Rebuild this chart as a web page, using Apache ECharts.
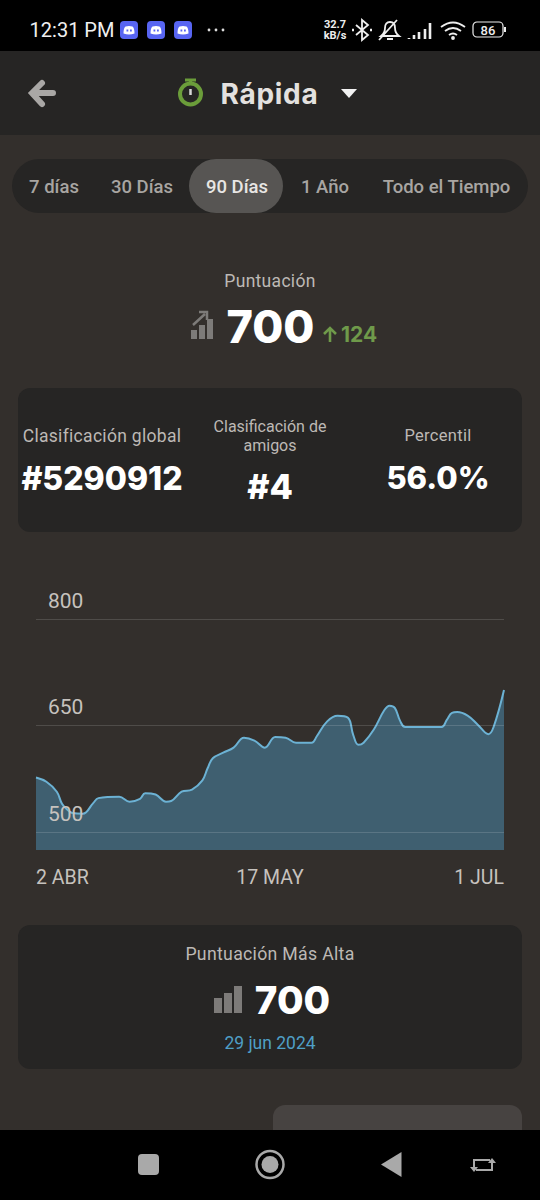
<!DOCTYPE html>
<html>
<head>
<meta charset="utf-8">
<style>
    html, body { margin: 0; padding: 0; background: #332f2c; }
    #app { position: relative; width: 540px; height: 1200px; overflow: hidden; background: #332f2c; font-family: Roboto, sans-serif; }
    .box { position: absolute; }
    .t { position: absolute; transform: translate(-50%, -50%); white-space: nowrap; line-height: 1; }
    .b { font-family: Inter, sans-serif; font-weight: 800; color: #fff; }
    .g { color: #bdb9b5; letter-spacing: 0.3px; }
    svg { position: absolute; overflow: visible; }
    #chart { position: absolute; left: 0; top: 580px; width: 540px; height: 310px; }
</style>
</head>
<body>
<div id="app">
    <!-- status bar -->
    <div class="box" style="left:0;top:0;width:540px;height:51px;background:#000"></div>
    <div class="t" style="left:72px;top:30px;font-size:20px;color:#f0f0f0">12:31 PM</div>
    <svg style="left:120px;top:21px" width="80" height="18">
        <rect x="0" y="0" width="18" height="18" rx="4" fill="#5865f2"/>
        <rect x="27" y="0" width="18" height="18" rx="4" fill="#5865f2"/>
        <rect x="54" y="0" width="18" height="18" rx="4" fill="#5865f2"/>
        <path d="M3.5 12.5 Q3.5 7 5.5 5.5 Q9 4.5 12.5 5.5 Q14.5 7 14.5 12.5 Q9 14.5 3.5 12.5Z M30.5 12.5 Q30.5 7 32.5 5.5 Q36 4.5 39.5 5.5 Q41.5 7 41.5 12.5 Q36 14.5 30.5 12.5Z M57.5 12.5 Q57.5 7 59.5 5.5 Q63 4.5 66.5 5.5 Q68.5 7 68.5 12.5 Q63 14.5 57.5 12.5Z" fill="#fff"/>
        <path d="M6.5 8.5h1.8v2h-1.8Z M10 8.5h1.8v2h-1.8Z M33.5 8.5h1.8v2h-1.8Z M37 8.5h1.8v2h-1.8Z M60.5 8.5h1.8v2h-1.8Z M64 8.5h1.8v2h-1.8Z" fill="#5865f2"/>
    </svg>
    <svg style="left:206px;top:27px" width="24" height="6">
        <circle cx="3" cy="3" r="1.4" fill="#ddd"/><circle cx="10" cy="3" r="1.4" fill="#ddd"/><circle cx="17" cy="3" r="1.4" fill="#ddd"/>
    </svg>
    <div class="t" style="left:335px;top:24px;font-size:11px;font-weight:700;color:#eee">32.7</div>
    <div class="t" style="left:335px;top:35px;font-size:11px;font-weight:700;color:#eee">kB/s</div>
    <svg style="left:351px;top:18px" width="160" height="24" fill="none" stroke="#eee" stroke-width="1.8">
        <path d="M5 7 L17 17 L11 22 L11 2 L17 7 L5 17"/>
        <path d="M1 12h2M19 12h2" stroke-width="2.4"/>
        <path d="M30 18 Q34 15 34 10 Q34 4 39 4 Q44 4 44 10 Q44 15 48 18Z M28 22 L46 2 M36 21h6"/>
        <path d="M58 20v1M63 17v4M68 14v7M74 11v10M79 5v16" stroke-width="2.6"/>
        <path d="M90 9 Q102 0 114 9 M94 13 Q102 7 110 13 M98 17 Q102 14 106 17"/>
        <circle cx="102" cy="20" r="1" fill="#eee"/>
        <rect x="122" y="4" width="30" height="15" rx="4" stroke-width="1.2"/>
        <path d="M154 9v5" stroke-width="2"/>
    </svg>
    <div class="t" style="left:488px;top:30px;font-size:13px;font-weight:500;color:#eee">86</div>

    <!-- header -->
    <div class="box" style="left:0;top:51px;width:540px;height:84px;background:#262524"></div>
    <svg style="left:28px;top:79px" width="30" height="30" fill="none" stroke="#a9a7a5" stroke-width="6" stroke-linecap="round">
        <path d="M25 14H5M14 4 L4 14 L14 25"/>
    </svg>
    <svg style="left:176px;top:77px" width="30" height="32" fill="none" stroke="#6b9d3a" stroke-width="4">
        <circle cx="14.5" cy="17" r="10.5"/>
        <path d="M9 3h11M14.5 3v4" stroke-width="3"/>
        <path d="M14.5 12v6" stroke-width="2.5" stroke="#d8d8d8"/>
    </svg>
    <div class="t b" style="left:269.5px;top:94px;font-size:28px;font-weight:700;color:#e3e1df;letter-spacing:0.7px">Rápida</div>
    <svg style="left:341px;top:89px" width="16" height="9"><path d="M0 0H16L8 9Z" fill="#f2f2f2"/></svg>

    <!-- period tabs -->
    <div class="box" style="left:12px;top:159px;width:516px;height:54px;border-radius:27px;background:#262524"></div>
    <div class="box" style="left:189px;top:159px;width:94px;height:54px;border-radius:27px;background:#575553"></div>
    <div class="t" style="left:54px;top:187px;font-size:18.5px;font-weight:500;color:#a8a5a2">7 días</div>
    <div class="t" style="left:142px;top:187px;font-size:18.5px;font-weight:500;color:#a8a5a2">30 Días</div>
    <div class="t" style="left:237px;top:187px;font-size:18.5px;font-weight:500;color:#e8e6e4">90 Días</div>
    <div class="t" style="left:325px;top:187px;font-size:18.5px;font-weight:500;color:#a8a5a2">1 Año</div>
    <div class="t" style="left:446.5px;top:187px;font-size:18.5px;font-weight:500;color:#a8a5a2">Todo el Tiempo</div>

    <!-- score -->
    <div class="t g" style="left:270px;top:282px;font-size:17.5px">Puntuación</div>
    <svg style="left:190px;top:310px" width="24" height="30" fill="#7d7b79">
        <rect x="1" y="20" width="6" height="9"/><rect x="9" y="15" width="6" height="14"/><rect x="17" y="9" width="6" height="20"/>
        <path d="M3 15 L15 4 M9 2h8v8" fill="none" stroke="#7d7b79" stroke-width="2.5"/>
    </svg>
    <div class="t b" style="left:270.5px;top:326px;font-size:45px">700</div>
    <svg style="left:323px;top:326px" width="14" height="16" fill="none" stroke="#6f9a4a" stroke-width="2.6">
        <path d="M7 16V2M1 8 L7 2 L13 8"/>
    </svg>
    <div class="t b" style="left:359px;top:334px;font-size:21px;font-weight:700;color:#6f9a4a">124</div>

    <!-- rank card -->
    <div class="box" style="left:18px;top:388px;width:504px;height:144px;border-radius:12px;background:#262524"></div>
    <div class="t g" style="left:102px;top:437px;font-size:17.5px">Clasificación global</div>
    <div class="t b" style="left:102px;top:479px;font-size:32px">#5290912</div>
    <div class="t g" style="left:270px;top:427px;font-size:16px;letter-spacing:0">Clasificación de</div>
    <div class="t g" style="left:270px;top:446px;font-size:16px;letter-spacing:0">amigos</div>
    <div class="t b" style="left:270px;top:487px;font-size:34px">#4</div>
    <div class="t g" style="left:438px;top:436px;font-size:16.5px">Percentil</div>
    <div class="t b" style="left:438px;top:477px;font-size:31px">56.0%</div>

    <!-- chart -->
    <div id="chart"></div>

    <!-- best score card -->
    <div class="box" style="left:18px;top:925px;width:504px;height:144px;border-radius:12px;background:#262524"></div>
    <div class="t g" style="left:270px;top:955px;font-size:17.7px">Puntuación Más Alta</div>
    <svg style="left:214px;top:986px" width="28" height="28" fill="#7d7b79">
        <rect x="0" y="12" width="8" height="15"/><rect x="10" y="7" width="8" height="20"/><rect x="20" y="0" width="8" height="27"/>
    </svg>
    <div class="t b" style="left:292.5px;top:1000px;font-size:38.5px">700</div>
    <div class="t" style="left:270px;top:1044px;font-size:17.5px;color:#4f9fc6">29 jun 2024</div>

    <div class="box" style="left:273px;top:1105px;width:249px;height:40px;border-radius:12px;background:#474341"></div>

    <!-- navigation bar -->
    <div class="box" style="left:0;top:1130px;width:540px;height:70px;background:#000"></div>
    <svg style="left:130px;top:1145px" width="380" height="40">
        <rect x="8" y="9" width="21" height="21" rx="4" fill="#a9a9a9"/>
        <circle cx="140" cy="19.5" r="13.5" fill="none" stroke="#a9a9a9" stroke-width="2.5"/>
        <circle cx="140" cy="19.5" r="8.5" fill="#a9a9a9"/>
        <path d="M251 19.5 L271.5 7 V32Z" fill="#a9a9a9"/>
        <path d="M344 23 V15 H360 M362 17 V25 H346" fill="none" stroke="#a9a9a9" stroke-width="2"/>
        <path d="M340 22h8l-4 5Z M358 18h8l-4-5Z" fill="#a9a9a9"/>
    </svg>
</div>
<script src="https://cdn.jsdelivr.net/npm/echarts@6/dist/echarts.min.js"></script>
<script>
const days = [0, 2, 4, 5, 6, 7, 9, 11, 12, 16, 18, 20, 21, 23, 25, 26, 28, 30, 32, 33, 34, 36, 38, 40, 42, 44, 46, 48, 50, 53, 54, 56, 58, 60, 61, 62, 63, 65, 67, 68, 69, 70, 71, 78, 79, 80, 81, 83, 85, 87, 88, 90]
const scores = [577, 571, 557, 540, 532, 527, 526, 541, 548, 550, 543, 547, 555, 553, 543, 544, 557, 560, 573, 590, 604, 612, 619, 633, 629, 619, 634, 633, 626, 626, 635, 656, 664, 661, 637, 623, 626, 645, 672, 678, 675, 657, 648, 648, 658, 668, 669, 664, 651, 638, 648, 700]
const dayTicks = [0, 45, 90]
const dayLabels = ['2 ABR', '17 MAY', '1 JUL']
const scoreTicks = [500, 650, 800]

const chart = echarts.init(document.getElementById('chart'), null, { renderer: 'svg' })

chart.setOption({
    animation: false,
    grid: { left: 36, right: 36, top: 39, bottom: 40 },
    xAxis: {
        type: 'value',
        min: 0,
        max: 90,
        splitLine: { show: false },
        axisLine: { show: false },
        axisTick: { show: false },
        axisLabel: {
            customValues: dayTicks,
            formatter: v => dayLabels[dayTicks.indexOf(v)],
            alignMinLabel: 'left',
            alignMaxLabel: 'right',
            margin: 17,
            fontFamily: 'Roboto',
            fontSize: 19.5,
            color: '#c6c2be'
        }
    },
    yAxis: {
        type: 'value',
        min: 475,
        max: 800,
        z: 5,
        axisLine: { show: false },
        axisTick: { show: false, customValues: scoreTicks },
        splitLine: { show: true, lineStyle: { color: 'rgba(255,255,255,0.14)', width: 1 } },
        axisLabel: {
            inside: true,
            customValues: scoreTicks,
            margin: 12,
            verticalAlign: 'bottom',
            padding: [0, 0, 8, 0],
            fontFamily: 'Roboto',
            fontSize: 21,
            color: '#c6c2be'
        }
    },
    series: [{
        type: 'line',
        data: days.map((d, i) => [d, scores[i]]),
        smooth: 0.4,
        symbol: 'none',
        lineStyle: { color: '#6cb2d4', width: 2 },
        areaStyle: { color: '#3f5f70', opacity: 1 }
    }]
})
</script>
</body>
</html>
